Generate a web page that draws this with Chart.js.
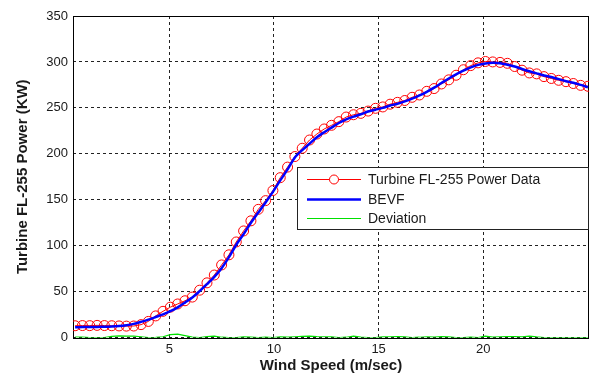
<!DOCTYPE html>
<html><head><meta charset="utf-8">
<script src="https://cdn.jsdelivr.net/npm/chart.js@4.4.0/dist/chart.umd.min.js"></script>
<style>html,body{margin:0;padding:0;background:#fff;}#wrap{position:relative;width:600px;height:377px;}</style>
</head><body><div id="wrap"><canvas id="c" width="600" height="377"></canvas></div>
<script>
const windSpeed = [0.5,0.85,1.2,1.55,1.9,2.25,2.6,2.95,3.3,3.65,4,4.35,4.7,5.05,5.4,5.75,6.1,6.45,6.8,7.15,7.5,7.85,8.2,8.55,8.9,9.25,9.6,9.95,10.3,10.65,11,11.35,11.7,12.05,12.4,12.75,13.1,13.45,13.8,14.15,14.5,14.85,15.2,15.55,15.9,16.25,16.6,16.95,17.3,17.65,18,18.35,18.7,19.05,19.4,19.75,20.1,20.45,20.8,21.15,21.5,21.85,22.2,22.55,22.9,23.25,23.6,23.95,24.3,24.65,25];
const powerData = [12.8,13.0,12.9,13.2,13.0,12.8,12.6,12.4,12.5,14.0,
17.5,23.5,28.5,33.0,36.5,40.0,44.0,51.5,59.5,68.0,
79.0,90.0,104.0,116.0,127.0,139.5,149.0,160.0,174.0,185.5,
197.0,206.0,215.0,221.5,227.0,231.0,235.0,240.0,242.5,244.0,
246.5,249.5,251.0,254.0,256.0,258.0,261.5,264.0,268.0,271.0,
276.0,280.5,285.5,291.5,296.0,299.0,300.5,300.0,299.5,298.5,
295.0,291.0,288.0,287.0,284.0,282.0,280.0,278.5,276.5,274.5,
273.5];
const bevfFit = [11.2,11.3,11.4,11.5,11.7,12.0,12.5,13.4,14.8,17.0,
19.5,22.3,25.2,28.6,32.8,38.0,43.5,50.5,58.0,66.0,
75.5,87.5,101,112.5,125,136,147,158.5,171,183,
196,204,211,218,223.5,228.5,233.5,237.5,240.5,243,
246,248,250,252.5,254.5,257,260,263.5,267.5,272,
277,282,286.5,290.5,294,296.8,298.3,299,298.6,297,
295,292.3,289.8,287.5,285.3,283.5,281.3,279,277.3,275,
272.5];
const deviation = [0.5,0.3,0,0,0,1.2,1.8,1.5,1.6,0.8,
0,0.2,0.8,3.2,3.6,2.0,0.5,0,1.0,1.4,
0.3,0,0,0.6,0.4,0,0.3,0,0.6,0.5,
0.8,1.2,1.5,1.0,0.8,0.7,0,0.3,1.5,0.4,
0,0,0.6,0.8,0.9,0.6,0,0.3,0.8,0.4,
0.9,0.6,0,0,0.4,0,1.5,0.4,0.8,1.0,
0.9,0.6,1.6,0.7,0,0,0,0,0,0,
0];
const xTickValues = [5,10,15,20];
const yTickValues = [0,50,100,150,200,250,300,350];
const seriesNames = ['Turbine FL-255 Power Data','BEVF','Deviation'];
const xTitle = 'Wind Speed (m/sec)';
const yTitle = 'Turbine FL-255 Power (KW)';

const FONT = 'Arial, "Liberation Sans", Helvetica, sans-serif';
const TXT = '#1a1a1a';
const toXY = ys => windSpeed.map((x,i)=>({x:x,y:ys[i]}));

const framePlugin = {
  id:'frame',
  beforeDatasetsDraw(chart){
    const {ctx, chartArea:a} = chart;
    ctx.save();
    ctx.strokeStyle = '#000'; ctx.lineWidth = 1; ctx.setLineDash([]);
    ctx.strokeRect(Math.round(a.left)+0.5, Math.round(a.top)+0.5, Math.round(a.right-a.left)-1, Math.round(a.bottom-a.top));
    ctx.restore();
  }
};

const legendPlugin = {
  id:'boxLegend',
  afterDraw(chart){
    const ctx = chart.ctx;
    const bx = 297.5, by = 167.5, bw = 291, bh = 62;
    ctx.save();
    ctx.fillStyle = '#fff'; ctx.fillRect(bx,by,bw,bh);
    ctx.strokeStyle = '#222'; ctx.lineWidth = 1; ctx.setLineDash([]);
    ctx.strokeRect(bx,by,bw,bh);
    const rows = [179,199,218];
    const x0 = 307, x1 = 361, tx = 368;
    chart.data.datasets.slice().sort((p,q)=>q.order-p.order).forEach((ds,i)=>{
      const y = rows[i];
      ctx.strokeStyle = ds.borderColor; ctx.lineWidth = ds.borderWidth;
      ctx.beginPath(); ctx.moveTo(x0,y+0.5); ctx.lineTo(x1,y+0.5); ctx.stroke();
      if (ds.pointRadius > 0) {
        ctx.lineWidth = 1; ctx.fillStyle = '#fff';
        ctx.beginPath(); ctx.arc((x0+x1)/2, y+0.5, 4.5, 0, Math.PI*2); ctx.fill(); ctx.stroke();
      }
      ctx.fillStyle = TXT; ctx.font = '14px ' + FONT; ctx.textBaseline = 'middle'; ctx.textAlign = 'left';
      ctx.fillText(ds.label, tx, y+1);
    });
    ctx.restore();
  }
};

new Chart(document.getElementById('c'), {
  type:'line',
  data:{datasets:[
    {label:seriesNames[0], data:toXY(powerData), borderColor:'#ff0000', borderWidth:1, pointRadius:5, pointHoverRadius:5,
     pointBorderColor:'#ff0000', pointBackgroundColor:'rgba(0,0,0,0)', pointBorderWidth:1, tension:0, order:3},
    {label:seriesNames[1], data:toXY(bevfFit), borderColor:'#0000ff', borderWidth:2.5, pointRadius:0, tension:0.3, order:2},
    {label:seriesNames[2], data:toXY(deviation), borderColor:'#00e000', borderWidth:1.2, pointRadius:0, tension:0, order:1}
  ]},
  options:{
    responsive:false, animation:false, devicePixelRatio:1,
    layout:{padding:{top:16,right:11,left:0,bottom:0}},
    plugins:{legend:{display:false}, tooltip:{enabled:false}},
    scales:{
      x:{type:'linear', min:0.4, max:25.05,
        afterBuildTicks:s=>{s.ticks = xTickValues.map(v=>({value:v}));},
        afterFit:s=>{s.height = 39.5;},
        ticks:{font:{family:FONT,size:13}, color:TXT, padding:4, maxRotation:0, autoSkip:false},
        grid:{color:'#222', lineWidth:1, drawTicks:false},
        border:{display:false, dash:[3,3]},
        title:{display:true, text:xTitle, color:TXT, font:{family:FONT,size:15,weight:'bold'}, padding:{top:0,bottom:2}}
      },
      y:{type:'linear', min:0, max:350,
        afterBuildTicks:s=>{s.ticks = yTickValues.map(v=>({value:v}));},
        afterFit:s=>{s.width = 73;},
        ticks:{font:{family:FONT,size:13}, color:TXT, padding:5, autoSkip:false},
        grid:{color:'#222', lineWidth:1, drawTicks:false},
        border:{display:false, dash:[3,3]},
        title:{display:true, text:yTitle, color:TXT, font:{family:FONT,size:15,weight:'bold'}, padding:{top:14,bottom:0}}
      }
    }
  },
  plugins:[framePlugin, legendPlugin]
});
</script></body></html>
